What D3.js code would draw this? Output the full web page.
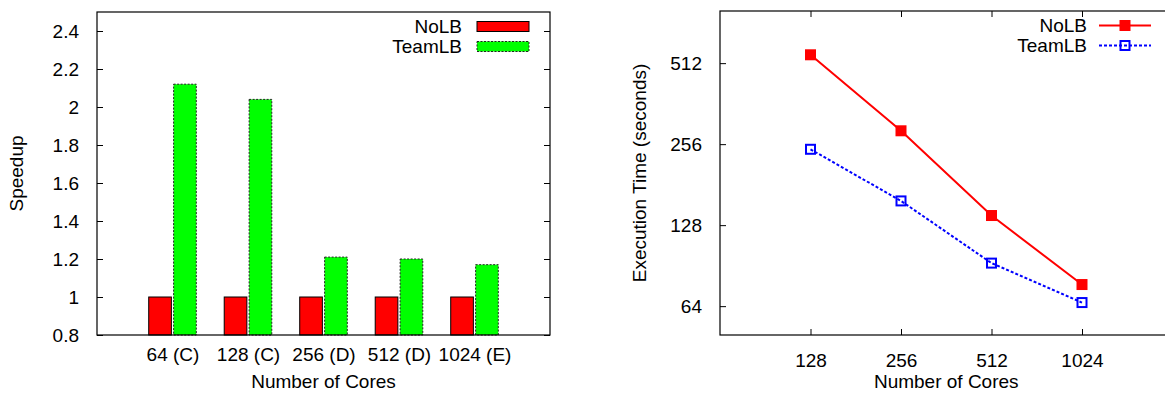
<!DOCTYPE html>
<html>
<head>
<meta charset="utf-8">
<script src="https://cdn.jsdelivr.net/npm/d3@7"></script>
<style>
  html, body { margin: 0; padding: 0; background: #fff; }
  svg { display: block; }
  text { font-family: "Liberation Sans", Arial, sans-serif; fill: #000; }
</style>
</head>
<body>
<svg id="chart" width="1165" height="393"></svg>
<script>
// Speedup per configuration (left panel)
const categories = ["64 (C)", "128 (C)", "256 (D)", "512 (D)", "1024 (E)"];
const speedupNoLB = [1, 1, 1, 1, 1];
const speedupTeamLB = [2.12, 2.04, 1.21, 1.20, 1.17];
const speedupTicks = [0.8, 1, 1.2, 1.4, 1.6, 1.8, 2, 2.2, 2.4];

// Execution time vs. cores (right panel, log-log)
const cores = [128, 256, 512, 1024];
const timeNoLB = [550, 287, 139, 77];
const timeTeamLB = [245, 157.5, 92.5, 66];
const timeTicks = [64, 128, 256, 512];

const seriesNames = ["NoLB", "TeamLB"];

const svg = d3.select("#chart");
const FONT = 19;

// ---------- Left panel: grouped bars ----------
const L = { left: 97, right: 550, top: 12, bottom: 335 };
const xL = d3.scaleLinear().domain([-1, 5]).range([L.left, L.right]);
const yL = d3.scaleLinear().domain([0.8, 2.5]).range([L.bottom, L.top]);
const barW = 0.3;
const gapW = 0.015;

const gL = svg.append("g");

const bars = [
  { name: seriesNames[0], values: speedupNoLB, fill: "#ff0000", stroke: "#000", dash: null, off: -barW - gapW },
  { name: seriesNames[1], values: speedupTeamLB, fill: "#00ff00", stroke: "#222", dash: "2,1.5", off: gapW }
];

bars.forEach(s => {
  gL.selectAll(null).data(s.values).enter().append("rect")
    .attr("x", (d, i) => xL(i + s.off))
    .attr("width", xL(barW) - xL(0))
    .attr("y", d => yL(d))
    .attr("height", d => yL(0.8) - yL(d))
    .attr("fill", s.fill)
    .attr("stroke", s.stroke)
    .attr("stroke-width", 1)
    .attr("stroke-dasharray", s.dash);
});

// y axis (left) with mirrored ticks on the right
const yAxisL = d3.axisLeft(yL).tickValues(speedupTicks).tickSize(-6).tickPadding(18).tickFormat(d3.format("~g"));
const yaL = gL.append("g").attr("transform", `translate(${L.left},0)`).call(yAxisL);
const yAxisLR = d3.axisRight(yL).tickValues(speedupTicks).tickSize(-6).tickFormat("");
const yaLR = gL.append("g").attr("transform", `translate(${L.right},0)`).call(yAxisLR);
[yaL, yaLR].forEach(a => {
  a.select(".domain").remove();
  a.selectAll("line").attr("stroke", "#000").attr("stroke-width", 1);
});
yaL.selectAll("text").attr("font-size", FONT).attr("font-family", "Liberation Sans, Arial, sans-serif").attr("fill", "#000");

// x axis labels
const xAxisL = d3.axisBottom(xL).tickValues(d3.range(categories.length)).tickSize(0).tickPadding(13)
  .tickFormat(i => categories[i]);
const xaL = gL.append("g").attr("transform", `translate(0,${L.bottom})`).call(xAxisL);
xaL.select(".domain").remove();
xaL.selectAll("text").attr("font-size", FONT).attr("font-family", "Liberation Sans, Arial, sans-serif").attr("fill", "#000");

// frame
gL.append("rect")
  .attr("x", L.left).attr("y", L.top)
  .attr("width", L.right - L.left).attr("height", L.bottom - L.top)
  .attr("fill", "none").attr("stroke", "#000").attr("stroke-width", 1.2);

// titles
gL.append("text").attr("x", (L.left + L.right) / 2).attr("y", 388)
  .attr("text-anchor", "middle").attr("font-size", FONT).text("Number of Cores");
gL.append("text").attr("transform", `translate(23,${(L.top + L.bottom) / 2}) rotate(-90)`)
  .attr("text-anchor", "middle").attr("font-size", FONT).text("Speedup");

// legend
bars.forEach((s, k) => {
  const cy = 26.5 + k * 20;
  gL.append("text").attr("x", 462).attr("y", cy).attr("dy", "0.35em")
    .attr("text-anchor", "end").attr("font-size", FONT).text(s.name);
  gL.append("rect").attr("x", 477).attr("y", cy - 5).attr("width", 52).attr("height", 10)
    .attr("fill", s.fill).attr("stroke", s.stroke).attr("stroke-width", 1)
    .attr("stroke-dasharray", s.dash);
});

// ---------- Right panel: log-log lines ----------
const R = { left: 720, right: 1172.5, top: 11, bottom: 335 };
const xR = d3.scaleLog().base(2).domain([64, 2048]).range([R.left, R.right]);
const yR = d3.scaleLog().base(2).domain([50, 800]).range([R.bottom, R.top]);

const gR = svg.append("g");

const yAxisR = d3.axisLeft(yR).tickValues(timeTicks).tickSize(-6).tickPadding(18).tickFormat(d3.format("d"));
const yaR = gR.append("g").attr("transform", `translate(${R.left},0)`).call(yAxisR);
const xAxisR = d3.axisBottom(xR).tickValues(cores).tickSize(-6).tickPadding(19).tickFormat(d3.format("d"));
const xaR = gR.append("g").attr("transform", `translate(0,${R.bottom})`).call(xAxisR);
const xAxisRT = d3.axisTop(xR).tickValues(cores).tickSize(-6).tickFormat("");
const xaRT = gR.append("g").attr("transform", `translate(0,${R.top})`).call(xAxisRT);
[yaR, xaR, xaRT].forEach(a => {
  a.select(".domain").remove();
  a.selectAll("line").attr("stroke", "#000").attr("stroke-width", 1);
  a.selectAll("text").attr("font-size", FONT).attr("font-family", "Liberation Sans, Arial, sans-serif").attr("fill", "#000");
});

gR.append("rect")
  .attr("x", R.left).attr("y", R.top)
  .attr("width", R.right - R.left).attr("height", R.bottom - R.top)
  .attr("fill", "none").attr("stroke", "#000").attr("stroke-width", 1.2);

const lines = [
  { name: seriesNames[0], values: timeNoLB, color: "#ff0000", dash: null, filled: true },
  { name: seriesNames[1], values: timeTeamLB, color: "#0000ff", dash: "3,2", filled: false }
];

const lineGen = d3.line().x(d => xR(d[0])).y(d => yR(d[1]));
const MS = 11;

lines.forEach(s => {
  const pts = cores.map((c, i) => [c, s.values[i]]);
  gR.append("path").datum(pts).attr("d", lineGen)
    .attr("fill", "none").attr("stroke", s.color).attr("stroke-width", 2)
    .attr("stroke-dasharray", s.dash);
  gR.selectAll(null).data(pts).enter().append("rect")
    .attr("x", d => xR(d[0]) - (s.filled ? MS / 2 : MS / 2 - 1))
    .attr("y", d => yR(d[1]) - (s.filled ? MS / 2 : MS / 2 - 1))
    .attr("width", s.filled ? MS : MS - 2).attr("height", s.filled ? MS : MS - 2)
    .attr("fill", s.filled ? s.color : "none")
    .attr("stroke", s.filled ? "none" : s.color)
    .attr("stroke-width", 2);
});

gR.append("text").attr("x", (R.left + R.right) / 2).attr("y", 388)
  .attr("text-anchor", "middle").attr("font-size", FONT).text("Number of Cores");
gR.append("text").attr("transform", `translate(646,${(R.top + R.bottom) / 2}) rotate(-90)`)
  .attr("text-anchor", "middle").attr("font-size", FONT).text("Execution Time (seconds)");

lines.forEach((s, k) => {
  const cy = 25.5 + k * 20;
  gR.append("text").attr("x", 1087).attr("y", cy).attr("dy", "0.35em")
    .attr("text-anchor", "end").attr("font-size", FONT).text(s.name);
  gR.append("line").attr("x1", 1099).attr("x2", 1151).attr("y1", cy).attr("y2", cy)
    .attr("stroke", s.color).attr("stroke-width", 2).attr("stroke-dasharray", s.dash);
  gR.append("rect")
    .attr("x", 1125 - (s.filled ? MS / 2 : MS / 2 - 1))
    .attr("y", cy - (s.filled ? MS / 2 : MS / 2 - 1))
    .attr("width", s.filled ? MS : MS - 2).attr("height", s.filled ? MS : MS - 2)
    .attr("fill", s.filled ? s.color : "none")
    .attr("stroke", s.filled ? "none" : s.color)
    .attr("stroke-width", 2);
});
</script>
</body>
</html>
